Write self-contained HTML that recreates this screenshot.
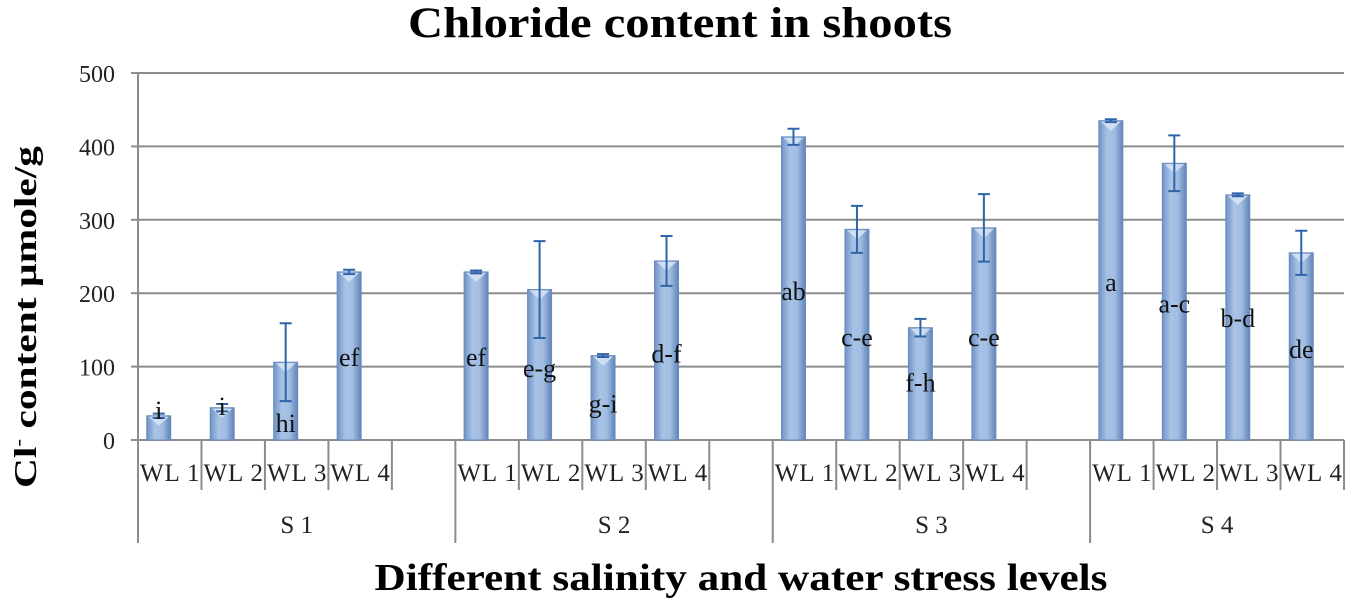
<!DOCTYPE html>
<html><head><meta charset="utf-8"><style>
body{margin:0;background:#fff;}
svg{display:block;font-family:"Liberation Serif",serif;}
</style></head><body>
<svg id="chart" width="1350" height="602" viewBox="0 0 1350 602" xmlns="http://www.w3.org/2000/svg">
<defs>
<linearGradient id="barGrad" x1="0" x2="1" y1="0" y2="0">
<stop offset="0" stop-color="#6f93c6"/><stop offset="0.35" stop-color="#a9c3e6"/><stop offset="0.65" stop-color="#a2bde2"/><stop offset="1" stop-color="#5f84b8"/>
</linearGradient>
</defs>
<text x="680" y="37" text-anchor="middle" font-size="43" font-weight="bold" textLength="544" lengthAdjust="spacingAndGlyphs">Chloride content in shoots</text>
<text x="741" y="590" text-anchor="middle" font-size="38" font-weight="bold" textLength="733" lengthAdjust="spacingAndGlyphs">Different salinity and water stress levels</text>
<text transform="translate(36,488) rotate(-90)" text-anchor="start" font-size="32" font-weight="bold" textLength="342" lengthAdjust="spacingAndGlyphs">Cl<tspan font-size="18" dy="-12">-</tspan><tspan dy="12">  content µmole/g</tspan></text>
<g id="grid"></g><g id="bars"></g><g id="axes"></g>
</svg>
<script>
const groups = ["S 1","S 2","S 3","S 4"];
const levels = ["WL 1","WL 2","WL 3","WL 4"];
const values = [33,44,106,229, 229,205,115,244, 413,287,153,289, 435,377,334,255];
const errors = [3,5,53,3, 2,66,2,34, 11,32,12,46, 2,38,2,30];
const letters = ["i","i","hi","ef", "ef","e-g","g-i","d-f", "ab","c-e","f-h","c-e", "a","a-c","b-d","de"];
const letterPos = [41,46,23,113, 113,98,50,118, 203,140,78,140, 215,186,166,124];
const yTicks = [0,100,200,300,400,500];

const NS="http://www.w3.org/2000/svg";
const X0=138, X1=1344, Y0=440, Y500=73;
const slotW=(X1-X0)/19;
function y(v){return Y0-(v/500)*(Y0-Y500);}
function barX(i){const g=Math.floor(i/4),k=i%4;const s=g*5+k;return X0+(s+0.5)*slotW-11;}
function mk(tag,attrs,parent){const e=document.createElementNS(NS,tag);for(const k in attrs)e.setAttribute(k,attrs[k]);parent.appendChild(e);return e;}
const grid=document.getElementById('grid'),bars=document.getElementById('bars'),axes=document.getElementById('axes');

yTicks.forEach(t=>{
  const l=mk('line',{x1:X0,x2:X1,y1:y(t),y2:y(t),stroke:'#8c8c8c','stroke-width':2},grid);
  
  
  mk('line',{x1:X0-7,x2:X0,y1:y(t),y2:y(t),stroke:'#8c8c8c','stroke-width':2},axes);
  const tx=mk('text',{x:115,y:y(t)+9,'text-anchor':'end','font-size':24,fill:'#222'},axes);
  tx.textContent=t;
  
  
});
mk('line',{x1:X0,x2:X0,y1:Y500,y2:543,stroke:'#8c8c8c','stroke-width':2},axes);

values.forEach((v,i)=>{
  const cx=barX(i),w=24,top=y(v);
  const r=mk('rect',{x:cx-w/2,y:top,width:w,height:Y0-top,fill:'url(#barGrad)',stroke:'#6a8cbc','stroke-width':1},bars);
  
  
  mk('polygon',{points:`${cx-w/2+2},${top+1} ${cx+w/2-2},${top+1} ${cx},${top+10}`,fill:'#dbe7f5',opacity:0.8},bars);
  const e1=y(v+errors[i]),e2=y(v-errors[i]);
  const eb=mk('path',{d:`M${cx},${e1}V${e2}M${cx-6},${e1}H${cx+6}M${cx-6},${e2}H${cx+6}`,stroke:'#2f65a8','stroke-width':2,fill:'none'},bars);
  
  
  const lt=mk('text',{x:cx,y:y(letterPos[i])+9,'text-anchor':'middle','font-size':26,fill:'#111'},bars);
  lt.textContent=letters[i];
  
  
});

for(let s=0;s<19;s++){
  const k=s%5;
  const xl=X0+s*slotW;
  if(k===0&&s>0){mk('line',{x1:xl,x2:xl,y1:Y0,y2:543,stroke:'#8c8c8c','stroke-width':2},axes);}
  else if(s>0){mk('line',{x1:xl,x2:xl,y1:Y0,y2:490,stroke:'#8c8c8c','stroke-width':2},axes);}
  if(k<4){
    const t=mk('text',{x:xl+slotW/2,y:481,'text-anchor':'middle','font-size':25,fill:'#222',textLength:slotW-4,lengthAdjust:'spacing'},axes);
    t.textContent=levels[k];
    
    
  }
}
mk('line',{x1:X1,x2:X1,y1:Y0,y2:490,stroke:'#8c8c8c','stroke-width':2},axes);
groups.forEach((gname,g)=>{
  const xs=X0+g*5*slotW, xe=Math.min(X1,xs+5*slotW);
  const t=mk('text',{x:(xs+xe)/2,y:533,'text-anchor':'middle','font-size':25,fill:'#222'},axes);
  t.textContent=gname;
  
  
});
</script>
</body></html>
